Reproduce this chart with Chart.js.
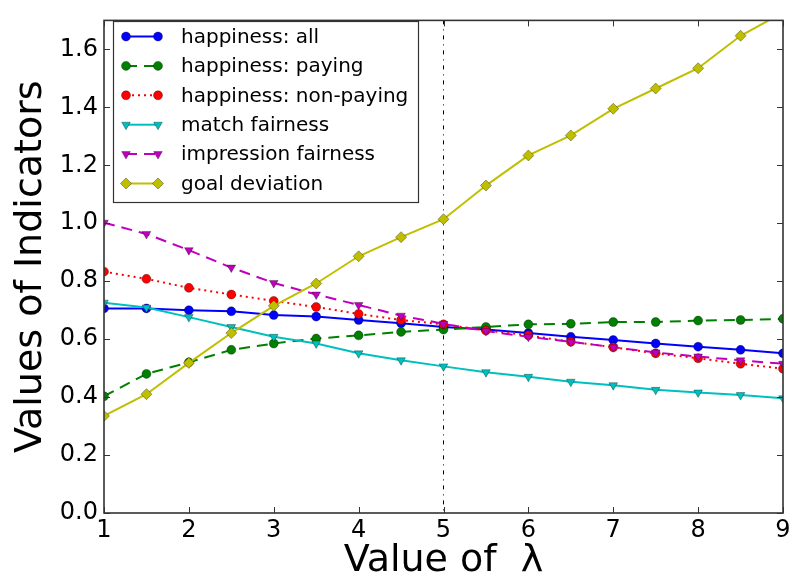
<!DOCTYPE html>
<html>
<head>
<meta charset="utf-8">
<script src="https://cdn.jsdelivr.net/npm/chart.js@4/dist/chart.umd.min.js"></script>
<style>
  html, body { margin: 0; padding: 0; background: #ffffff; }
  #wrap { width: 794px; height: 580px; }
</style>
</head>
<body>
<div id="wrap"><canvas id="chart" width="794" height="580"></canvas></div>
<script>
// Values of lambda at which every indicator was evaluated
const lambdas = [1, 1.5, 2, 2.5, 3, 3.5, 4, 4.5, 5, 5.5, 6, 6.5, 7, 7.5, 8, 8.5, 9];

// Indicator series
const happinessAll       = [0.706, 0.706, 0.700, 0.696, 0.683, 0.678, 0.666, 0.655, 0.642, 0.633, 0.621, 0.608, 0.597, 0.585, 0.574, 0.563, 0.551];
const happinessPaying    = [0.403, 0.480, 0.520, 0.563, 0.585, 0.602, 0.613, 0.625, 0.633, 0.642, 0.651, 0.653, 0.659, 0.659, 0.664, 0.666, 0.670];
const happinessNonPaying = [0.833, 0.808, 0.777, 0.754, 0.732, 0.711, 0.687, 0.666, 0.651, 0.630, 0.613, 0.591, 0.572, 0.551, 0.534, 0.515, 0.498];
const matchFairness      = [0.726, 0.709, 0.676, 0.642, 0.608, 0.585, 0.551, 0.527, 0.506, 0.486, 0.470, 0.453, 0.441, 0.425, 0.416, 0.407, 0.396];
const impressionFairness = [1.002, 0.963, 0.907, 0.847, 0.794, 0.754, 0.718, 0.681, 0.653, 0.628, 0.608, 0.591, 0.572, 0.554, 0.540, 0.527, 0.515];
const goalDeviation      = [0.335, 0.410, 0.518, 0.621, 0.715, 0.792, 0.886, 0.952, 1.014, 1.130, 1.234, 1.303, 1.395, 1.465, 1.535, 1.647, 1.727];

// Axis ticks and the reference lambda marked with a vertical line
const xTicks = [1, 2, 3, 4, 5, 6, 7, 8, 9];
const yTicks = [0.0, 0.2, 0.4, 0.6, 0.8, 1.0, 1.2, 1.4, 1.6];
const markedLambda = 5;

const FONT = "'DejaVu Sans', 'Liberation Sans', sans-serif";

function pts(values) {
  return values.map((v, i) => ({ x: lambdas[i], y: v }));
}

const seriesDefs = [
  { label: 'happiness: all',          data: happinessAll,       color: '#0000ff', dash: [],      style: 'circle',   rot: 0,   r: 4.5 },
  { label: 'happiness: paying',       data: happinessPaying,    color: '#008000', dash: [11, 7], style: 'circle',   rot: 0,   r: 4.5 },
  { label: 'happiness: non-paying',   data: happinessNonPaying, color: '#ff0000', dash: [2, 4],  style: 'circle',   rot: 0,   r: 4.5 },
  { label: 'match fairness',          data: matchFairness,      color: '#00bfbf', dash: [],      style: 'triangle', rot: 180, r: 5 },
  { label: 'impression fairness',     data: impressionFairness, color: '#bf00bf', dash: [11, 7], style: 'triangle', rot: 180, r: 5 },
  { label: 'goal deviation',          data: goalDeviation,      color: '#bfbf00', dash: [],      style: 'rectRot',  rot: 0,   r: 5.5 }
];

const datasets = seriesDefs.map((s, i) => ({
  label: s.label,
  data: pts(s.data),
  borderColor: s.color,
  backgroundColor: s.color,
  borderWidth: 2,
  borderDash: s.dash,
  pointStyle: s.style,
  pointRotation: s.rot,
  pointRadius: s.r,
  pointBackgroundColor: s.color,
  pointBorderColor: 'rgba(0,0,0,0.55)',
  pointBorderWidth: 0.6,
  tension: 0,
  clip: 0,
  order: seriesDefs.length - 1 - i
}));

// Frame, inward ticks on all four sides, and the dash-dot marker line
const framePlugin = {
  id: 'frame',
  beforeDatasetsDraw(chart) {
    const { ctx, chartArea: a, scales } = chart;
    const xp = scales.x.getPixelForValue(markedLambda);
    ctx.save();
    ctx.strokeStyle = '#000000';
    ctx.lineWidth = 1;
    ctx.setLineDash([4, 5, 1, 5]);
    ctx.beginPath();
    ctx.moveTo(xp, a.top);
    ctx.lineTo(xp, a.bottom);
    ctx.stroke();
    ctx.restore();
  },
  afterDatasetsDraw(chart) {
    const { ctx, chartArea: a, scales } = chart;
    const len = 6;
    ctx.save();
    ctx.strokeStyle = '#333333';
    ctx.lineWidth = 1;
    ctx.beginPath();
    xTicks.forEach(v => {
      const p = Math.round(scales.x.getPixelForValue(v)) + 0.5;
      ctx.moveTo(p, a.bottom); ctx.lineTo(p, a.bottom - len);
      ctx.moveTo(p, a.top);    ctx.lineTo(p, a.top + len);
    });
    yTicks.forEach(v => {
      const p = Math.round(scales.y.getPixelForValue(v)) + 0.5;
      ctx.moveTo(a.left, p);  ctx.lineTo(a.left + len, p);
      ctx.moveTo(a.right, p); ctx.lineTo(a.right - len, p);
    });
    ctx.stroke();
    ctx.lineWidth = 1.6;
    ctx.strokeRect(a.left, a.top, a.right - a.left, a.bottom - a.top);
    ctx.restore();
  }
};

// Boxed legend: each entry shows a line sample with a marker at both ends
const legendPlugin = {
  id: 'boxLegend',
  afterDraw(chart) {
    const { ctx } = chart;
    const box = { x: 113, y: 21, w: 305, h: 181 };
    const rowY0 = 36.5, rowStep = 29.4;
    const lineX0 = 126, lineX1 = 158, textX = 181;
    ctx.save();
    ctx.fillStyle = '#ffffff';
    ctx.fillRect(box.x, box.y, box.w, box.h);
    ctx.strokeStyle = '#333333';
    ctx.lineWidth = 1.2;
    ctx.strokeRect(box.x + 0.5, box.y + 0.5, box.w, box.h);
    chart.data.datasets.forEach((ds, i) => {
      const y = rowY0 + i * rowStep;
      ctx.save();
      ctx.strokeStyle = ds.borderColor;
      ctx.lineWidth = ds.borderWidth;
      ctx.setLineDash(ds.borderDash);
      ctx.beginPath();
      ctx.moveTo(lineX0, y);
      ctx.lineTo(lineX1, y);
      ctx.stroke();
      ctx.setLineDash([]);
      ctx.fillStyle = ds.pointBackgroundColor;
      ctx.strokeStyle = ds.pointBorderColor;
      ctx.lineWidth = ds.pointBorderWidth;
      const opts = { pointStyle: ds.pointStyle, rotation: ds.pointRotation, radius: ds.pointRadius, borderWidth: ds.pointBorderWidth };
      Chart.helpers.drawPoint(ctx, opts, lineX0, y);
      Chart.helpers.drawPoint(ctx, opts, lineX1, y);
      ctx.restore();
      ctx.fillStyle = '#000000';
      ctx.font = '20px ' + FONT;
      ctx.textAlign = 'left';
      ctx.textBaseline = 'middle';
      ctx.fillText(ds.label, textX, y + 1);
    });
    ctx.restore();
  }
};

new Chart(document.getElementById('chart'), {
  type: 'line',
  data: { datasets },
  options: {
    responsive: false,
    animation: false,
    devicePixelRatio: 1,
    layout: { padding: { top: 10, right: 11, left: 0, bottom: 0 } },
    plugins: {
      legend: { display: false },
      tooltip: { enabled: false }
    },
    scales: {
      x: {
        type: 'linear',
        min: 1,
        max: 9,
        afterBuildTicks: s => { s.ticks = xTicks.map(v => ({ value: v })); },
        afterFit: s => { s.height = 67; },
        grid: { display: false, drawTicks: false },
        border: { display: false },
        ticks: {
          padding: 3,
          color: '#000000',
          font: { family: FONT, size: 24 },
          maxRotation: 0,
          callback: v => String(v)
        },
        title: {
          display: true,
          text: 'Value of  λ',
          color: '#000000',
          font: { family: FONT, size: 38, lineHeight: 1 },
          padding: { top: 0, bottom: 0 }
        }
      },
      y: {
        type: 'linear',
        min: 0,
        max: 1.7,
        afterBuildTicks: s => { s.ticks = yTicks.map(v => ({ value: v })); },
        afterFit: s => { s.width = 104; },
        grid: { display: false, drawTicks: false },
        border: { display: false },
        ticks: {
          padding: 6,
          color: '#000000',
          font: { family: FONT, size: 24 },
          callback: v => Number(v).toFixed(1)
        },
        title: {
          display: true,
          text: 'Values of Indicators',
          color: '#000000',
          font: { family: FONT, size: 38, lineHeight: 1 },
          padding: { top: 12, bottom: 0 }
        }
      }
    }
  },
  plugins: [framePlugin, legendPlugin]
});
</script>
</body>
</html>
